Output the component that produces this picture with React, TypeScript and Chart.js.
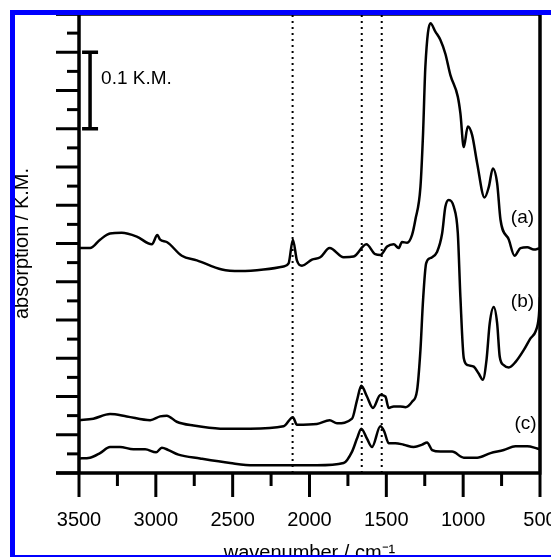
import React, { useEffect, useRef } from 'react';
import { Chart, registerables } from 'chart.js';

Chart.register(...registerables);

// ---- data (wavenumber in cm^-1, absorption in K.M.) ----
const aWavenumber = [3500, 3428, 3363, 3298, 3222, 3124, 3026, 2990, 2972, 2929, 2831, 2733, 2570, 2451, 2299, 2169, 2136, 2108, 2082, 2049, 1984, 1930, 1869, 1778, 1713, 1630, 1572, 1539, 1495, 1452, 1420, 1398, 1365, 1333, 1311, 1278, 1261, 1246, 1213, 1181, 1148, 1116, 1083, 1035, 1018, 996, 970, 942, 909, 861, 833, 807, 779, 757, 703, 666, 627, 583, 540, 500];
const aAbsorption = [0.294, 0.294, 0.305, 0.313, 0.314, 0.309, 0.299, 0.311, 0.305, 0.302, 0.284, 0.278, 0.266, 0.264, 0.266, 0.27, 0.274, 0.305, 0.278, 0.271, 0.279, 0.282, 0.294, 0.282, 0.283, 0.299, 0.286, 0.285, 0.296, 0.299, 0.294, 0.302, 0.301, 0.311, 0.331, 0.374, 0.444, 0.531, 0.588, 0.577, 0.566, 0.548, 0.52, 0.492, 0.47, 0.426, 0.453, 0.442, 0.405, 0.36, 0.374, 0.398, 0.379, 0.331, 0.305, 0.284, 0.294, 0.295, 0.292, 0.294];

const bWavenumber = [3500, 3407, 3298, 3189, 3037, 2972, 2929, 2864, 2755, 2581, 2386, 2169, 2108, 2082, 1952, 1869, 1821, 1723, 1691, 1663, 1626, 1587, 1539, 1506, 1485, 1452, 1409, 1376, 1333, 1300, 1278, 1261, 1241, 1213, 1170, 1137, 1116, 1094, 1061, 1035, 1018, 996, 970, 931, 899, 872, 848, 827, 801, 779, 762, 736, 703, 660, 605, 562, 529, 508, 500];
const bAbsorption = [0.069, 0.071, 0.077, 0.074, 0.069, 0.074, 0.075, 0.067, 0.062, 0.058, 0.058, 0.061, 0.073, 0.063, 0.064, 0.069, 0.065, 0.071, 0.095, 0.114, 0.1, 0.085, 0.102, 0.1, 0.085, 0.087, 0.087, 0.086, 0.093, 0.108, 0.161, 0.226, 0.274, 0.281, 0.289, 0.313, 0.348, 0.357, 0.348, 0.314, 0.23, 0.15, 0.141, 0.139, 0.13, 0.122, 0.148, 0.196, 0.217, 0.196, 0.152, 0.141, 0.138, 0.145, 0.161, 0.176, 0.185, 0.204, 0.23];

const cWavenumber = [3500, 3428, 3363, 3298, 3233, 3146, 3070, 2998, 2961, 2918, 2853, 2712, 2516, 2364, 2169, 1952, 1778, 1723, 1691, 1663, 1626, 1593, 1539, 1513, 1485, 1441, 1387, 1322, 1267, 1235, 1202, 1148, 1072, 996, 909, 822, 736, 660, 583, 518, 500];
const cAbsorption = [0.019, 0.02, 0.026, 0.034, 0.034, 0.031, 0.031, 0.027, 0.033, 0.03, 0.024, 0.019, 0.013, 0.01, 0.01, 0.01, 0.013, 0.028, 0.045, 0.058, 0.045, 0.034, 0.061, 0.054, 0.039, 0.039, 0.037, 0.034, 0.037, 0.04, 0.03, 0.028, 0.028, 0.02, 0.02, 0.026, 0.03, 0.035, 0.035, 0.032, 0.031];

const markerWavenumbers = [2110, 1660, 1530];
const seriesLabels = ['(a)', '(b)', '(c)'];
const seriesLabelWavenumber = [614, 614, 594];
const seriesLabelAbsorption = [0.333, 0.2235, 0.065];

const scaleBarWavenumber = 3428;
const scaleBarTop = 0.55;
const scaleBarSize = 0.1;
const scaleBarText = '0.1 K.M.';

const xTitle = 'wavenumber / cm\u207B\u00B9';
const yTitle = 'absorption / K.M.';

const FONT = '"Liberation Sans", Arial, Helvetica, sans-serif';

const toPoints = (xs: number[], ys: number[]) => xs.map((x, i) => ({ x, y: ys[i] }));

const decorPlugin = {
  id: 'decor',
  afterDraw(chart: any) {
    const { ctx, chartArea: ca, scales } = chart;
    const x = scales.x;
    const y = scales.y;
    ctx.save();
    ctx.strokeStyle = '#000';
    ctx.fillStyle = '#000';
    ctx.lineCap = 'butt';

    // y ticks (alternating long / short)
    ctx.lineWidth = 3;
    y.ticks.forEach((t: any) => {
      const py = y.getPixelForValue(t.value);
      const major = Math.round(t.value / 0.025) % 2 === 0;
      const len = major ? 23 : 12;
      ctx.beginPath();
      ctx.moveTo(ca.left - len, py);
      ctx.lineTo(ca.left, py);
      ctx.stroke();
    });
    // x ticks
    x.ticks.forEach((t: any) => {
      const px = x.getPixelForValue(t.value);
      const major = Math.round(t.value) % 500 === 0;
      const len = major ? 24 : 13;
      ctx.beginPath();
      ctx.moveTo(px, ca.bottom);
      ctx.lineTo(px, ca.bottom + len);
      ctx.stroke();
    });

    // frame lines
    ctx.lineWidth = 3.5;
    ctx.beginPath();
    ctx.moveTo(ca.left, ca.top);
    ctx.lineTo(ca.left, ca.bottom);
    ctx.moveTo(ca.right, ca.top);
    ctx.lineTo(ca.right, ca.bottom);
    ctx.moveTo(ca.left - 23, ca.bottom);
    ctx.lineTo(ca.right + 1.5, ca.bottom);
    ctx.moveTo(ca.left - 23, ca.top);
    ctx.lineTo(ca.right + 1.5, ca.top);
    ctx.stroke();

    // scale bar
    const bx = x.getPixelForValue(scaleBarWavenumber);
    const by1 = y.getPixelForValue(scaleBarTop);
    const by2 = y.getPixelForValue(scaleBarTop - scaleBarSize);
    ctx.lineWidth = 3.5;
    ctx.beginPath();
    ctx.moveTo(bx, by1);
    ctx.lineTo(bx, by2);
    ctx.moveTo(bx - 8, by1);
    ctx.lineTo(bx + 8, by1);
    ctx.moveTo(bx - 8, by2);
    ctx.lineTo(bx + 8, by2);
    ctx.stroke();

    ctx.font = `19px ${FONT}`;
    ctx.textBaseline = 'middle';
    ctx.textAlign = 'left';
    ctx.fillText(scaleBarText, bx + 11, y.getPixelForValue(scaleBarTop - 0.035));

    // series labels
    ctx.textAlign = 'center';
    seriesLabels.forEach((s, i) => {
      ctx.fillText(s, x.getPixelForValue(seriesLabelWavenumber[i]), y.getPixelForValue(seriesLabelAbsorption[i]));
    });

    // blue border of the figure
    ctx.fillStyle = '#0000ff';
    ctx.fillRect(10, 10, 541, 5);
    ctx.fillRect(10, 10, 5, 547);
    ctx.fillRect(10, 555, 541, 2);
    ctx.restore();
  },
};

export default function App() {
  const ref = useRef<HTMLCanvasElement | null>(null);

  useEffect(() => {
    if (!ref.current) return;
    Chart.defaults.font.family = FONT;
    Chart.defaults.color = '#000';

    const lineStyle = {
      borderColor: '#000',
      borderWidth: 2.5,
      pointRadius: 0,
      fill: false,
      cubicInterpolationMode: 'monotone' as const,
    };

    const markerSets = markerWavenumbers.map((w) => ({
      label: `marker ${w}`,
      data: [{ x: w, y: 0 }, { x: w, y: 0.6 }],
      borderColor: '#000',
      borderWidth: 2,
      borderDash: [2, 4],
      pointRadius: 0,
      fill: false,
    }));

    const chart = new Chart(ref.current, {
      type: 'line',
      data: {
        datasets: [
          ...markerSets,
          { label: '(a)', data: toPoints(aWavenumber, aAbsorption), ...lineStyle },
          { label: '(b)', data: toPoints(bWavenumber, bAbsorption), ...lineStyle },
          { label: '(c)', data: toPoints(cWavenumber, cAbsorption), ...lineStyle },
        ],
      },
      options: {
        animation: false,
        responsive: false,
        maintainAspectRatio: false,
        layout: { padding: { left: 0, right: 11, top: 14, bottom: 0 } },
        plugins: { legend: { display: false }, tooltip: { enabled: false } },
        scales: {
          x: {
            type: 'linear',
            min: 500,
            max: 3500,
            reverse: true,
            border: { display: false },
            grid: { display: true, drawOnChartArea: false, drawTicks: true, tickLength: 24, color: 'rgba(0,0,0,0)' },
            ticks: {
              stepSize: 250,
              autoSkip: false,
              maxRotation: 0,
              minRotation: 0,
              padding: 11,
              color: '#000',
              font: { size: 20, family: FONT },
              callback: (v: any) => (Math.round(Number(v)) % 500 === 0 ? String(v) : ''),
            },
            title: { display: true, text: xTitle, color: '#000', font: { size: 20, family: FONT }, padding: { top: 0, bottom: -8 } },
            afterFit: (s: any) => {
              s.height = 84;
              s.paddingLeft = 0;
              s.paddingRight = 0;
            },
          },
          y: {
            type: 'linear',
            min: 0,
            max: 0.6,
            border: { display: false },
            grid: { display: false },
            ticks: { stepSize: 0.025, display: false },
            title: { display: true, text: yTitle, color: '#000', font: { size: 20, family: FONT }, padding: { top: 10, bottom: 0 } },
            afterFit: (s: any) => {
              s.width = 79;
              s.paddingTop = 0;
              s.paddingBottom = 0;
            },
          },
        },
      },
      plugins: [decorPlugin],
    } as any);

    return () => chart.destroy();
  }, []);

  return (
    <div style={{ position: 'fixed', left: 0, top: 0, width: 551, height: 557, background: '#fff' }}>
      <canvas ref={ref} width={551} height={557} style={{ width: 551, height: 557, display: 'block' }} />
    </div>
  );
}
